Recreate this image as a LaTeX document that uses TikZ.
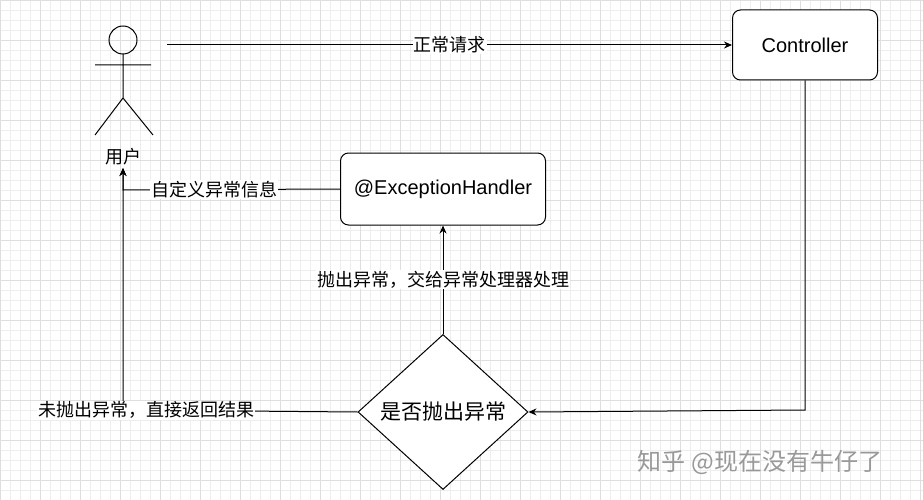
\documentclass[tikz,border=0pt]{standalone}
\usepackage{fontspec}
\setmainfont{Liberation Sans}
\newfontfamily\cjk{Noto Sans CJK SC}
\usetikzlibrary{shapes.geometric,arrows.meta}
\begin{document}
\begin{tikzpicture}[x=1pt,y=-1pt,
  box/.style={draw,rounded corners=8pt,line width=1pt,fill=white,font=\fontsize{20}{22}\selectfont},
  lab/.style={fill=white,inner sep=1pt,font=\cjk\fontsize{18}{20}\selectfont},
  arr/.style={-{Stealth[length=8pt,width=7pt]},line width=1pt}]
\fill[white](0,0) rectangle (923,500);
\useasboundingbox (0,0) rectangle (923,500);
\foreach \i in {0,10,...,920} \draw[black!7,line width=0.5pt] (\i,0) -- (\i,500);
\foreach \i in {0,10,...,500} \draw[black!7,line width=0.5pt] (0,\i) -- (923,\i);
\foreach \i in {0,40,...,920} \draw[black!13,line width=0.6pt] (\i,0) -- (\i,500);
\foreach \i in {0,40,...,500} \draw[black!13,line width=0.6pt] (0,\i) -- (923,\i);
% stick figure
\draw[line width=1pt] (123,40) circle (14);
\draw[line width=1pt] (123,54) -- (123,98) (95,65) -- (151,65) (123,98) -- (95,135) (123,98) -- (153,135);
\node[lab,fill=none] (user) at (123,157) {用户};
\coordinate (ua) at (167,45);
\node[box,minimum width=145,minimum height=70] (ctrl) at (805,45) {Controller};
\node[box,minimum width=205,minimum height=72] (eh) at (443,189) {@ExceptionHandler};
\node[draw,diamond,line width=1pt,fill=white,minimum width=170,minimum height=155,inner sep=0,font=\cjk\fontsize{21}{24}\selectfont] (dec) at (443,412) {是否抛出异常};
\coordinate (c1) at (805,410);
\coordinate (ut) at (123,168);
\coordinate (l1) at (123,190);
\coordinate (l2) at (123,410);
\draw[arr] (ua) -- node[lab]{正常请求} (ctrl.west);
\draw[arr] (ctrl.south) -- (c1) -- (dec.east);
\draw[arr] (dec.north) -- node[lab]{抛出异常，交给异常处理器处理} (eh.south);
\draw[arr] (eh.west) -- node[lab,pos=0.58]{自定义异常信息} (l1) -- (ut);
\draw[arr] (dec.west) -- node[lab,pos=0.9]{未抛出异常，直接返回结果} (l2) -- (ut);
\node[font=\cjk\fontsize{24}{26}\selectfont,text=black!40] (wm) at (760,462) {知乎 @现在没有牛仔了};
\end{tikzpicture}
\end{document}
